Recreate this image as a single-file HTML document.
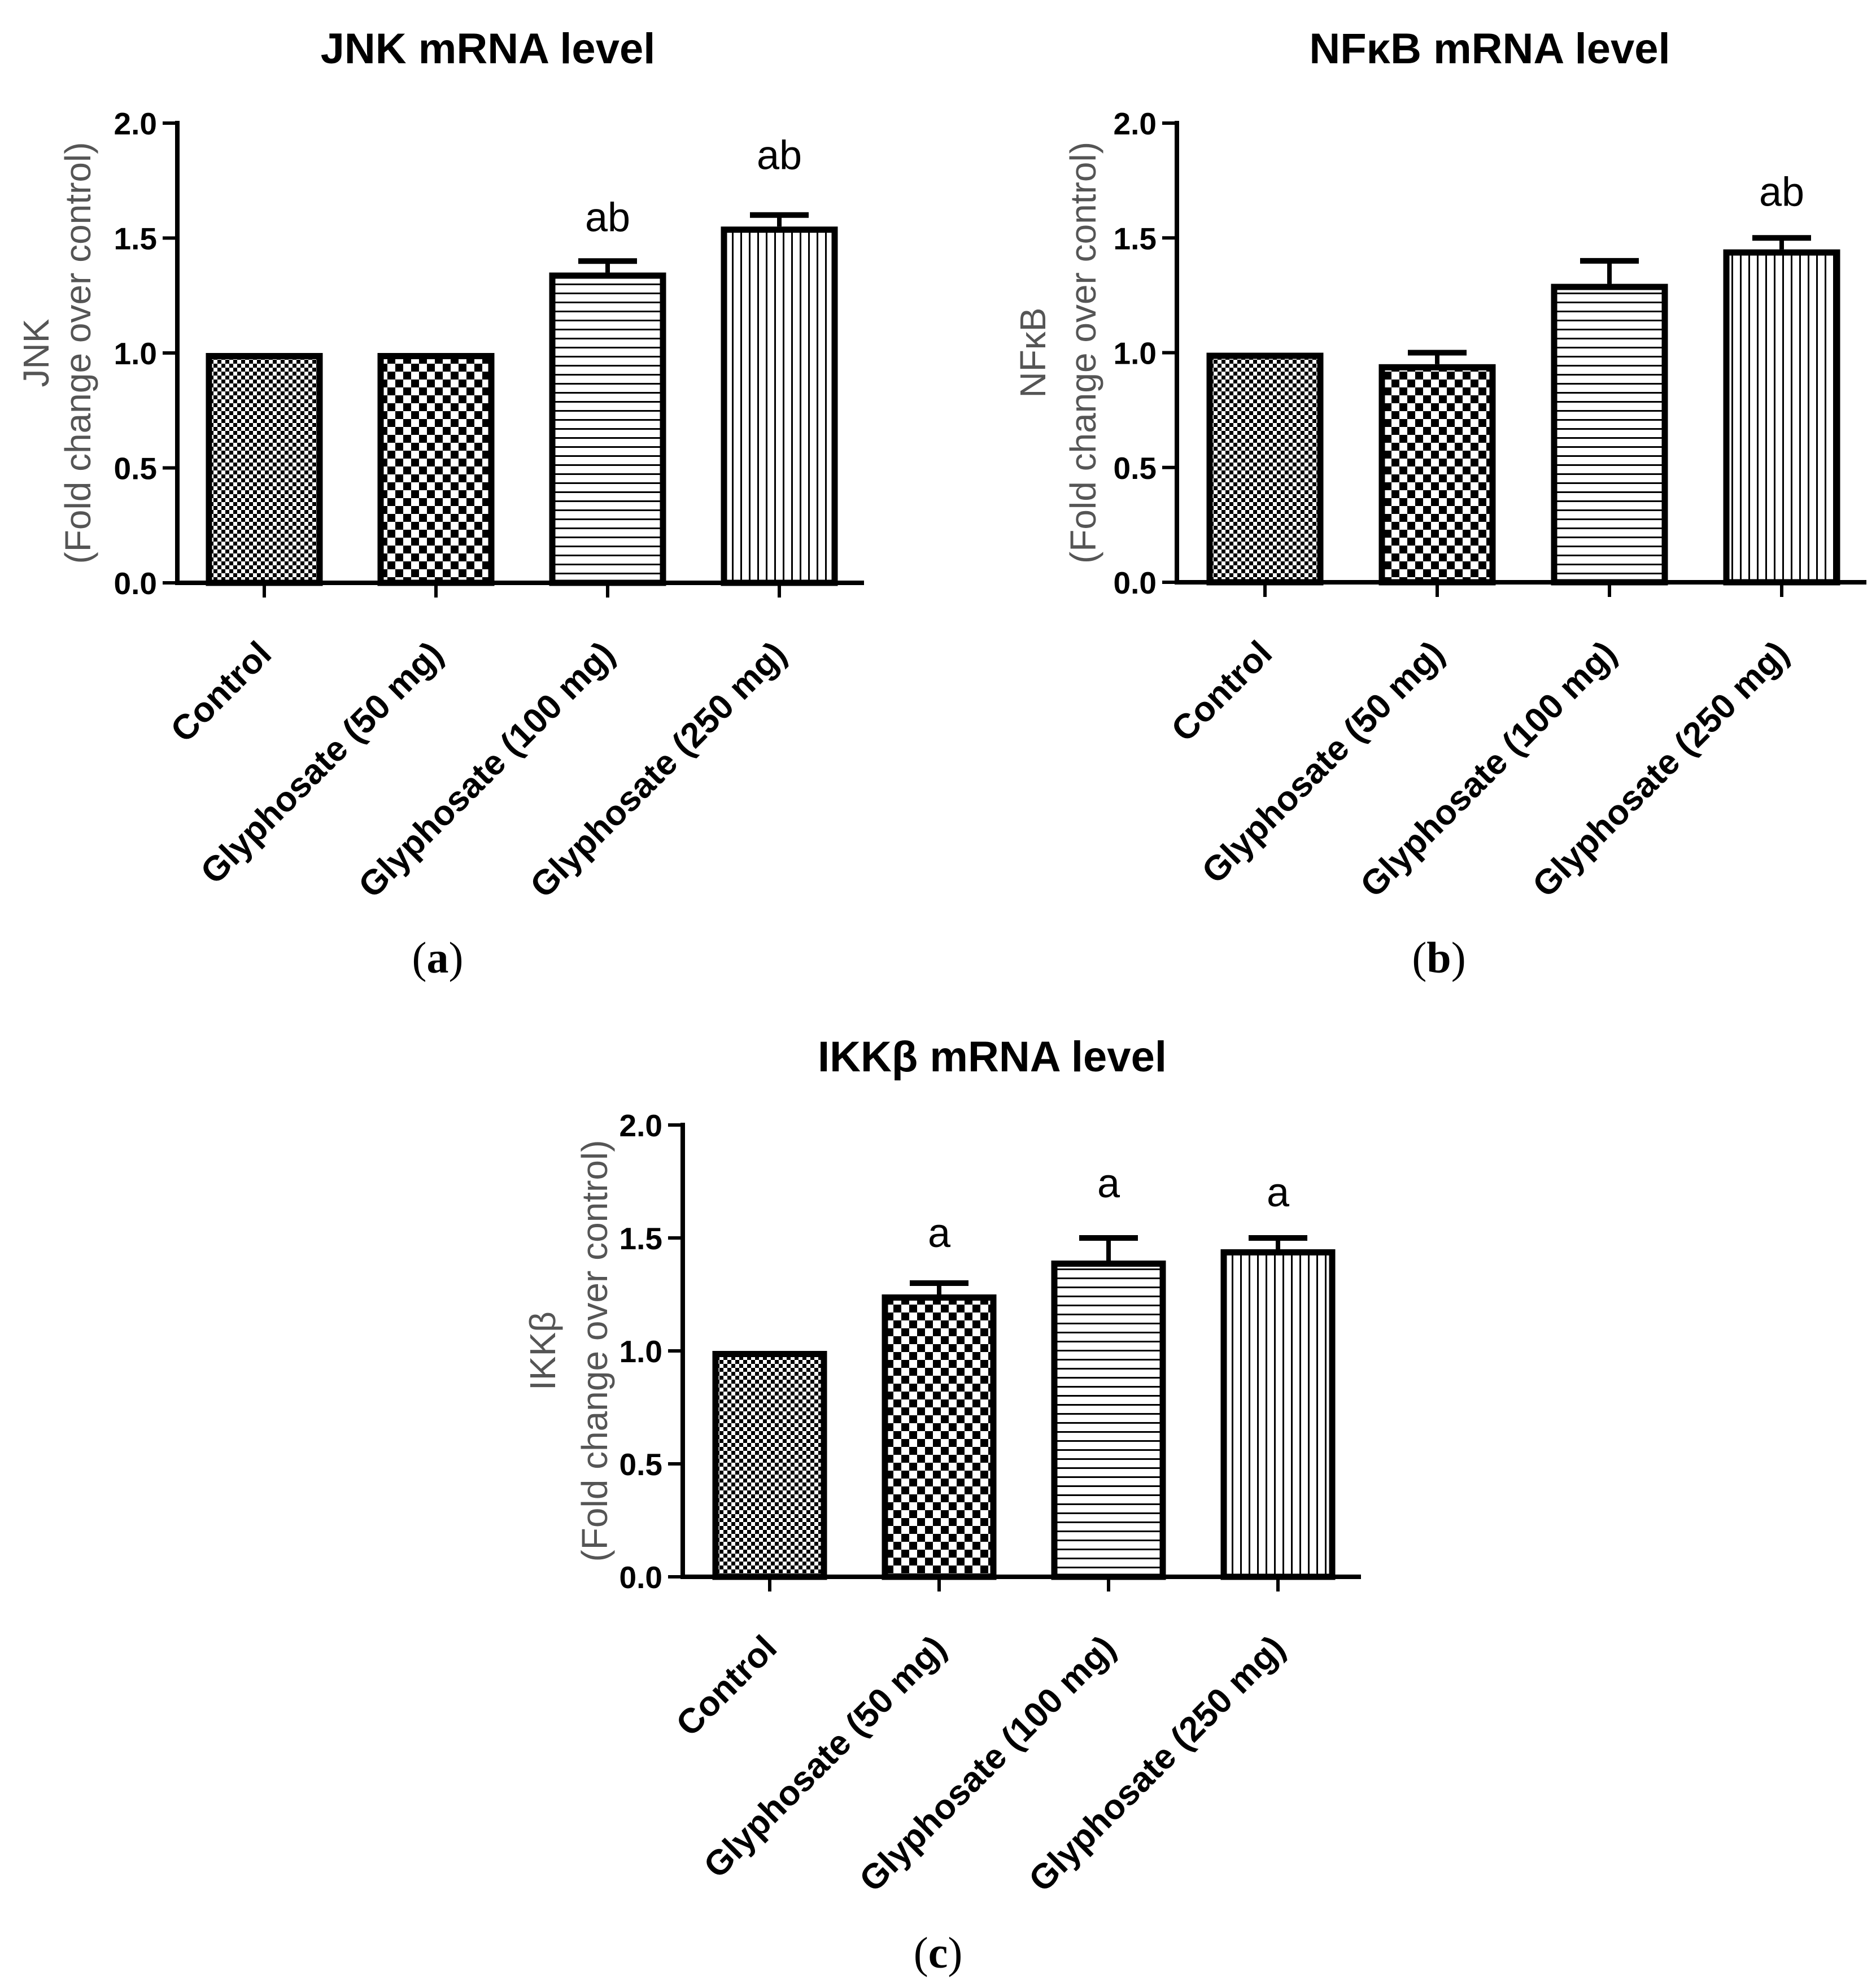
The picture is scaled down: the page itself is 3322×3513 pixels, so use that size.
<!DOCTYPE html>
<html><head><meta charset="utf-8">
<style>
html,body{margin:0;padding:0;background:#fff;}
svg{display:block;}
</style></head>
<body>
<svg id="fig" width="3322" height="3513" viewBox="0 0 3322 3513" xmlns="http://www.w3.org/2000/svg">
<defs>
<pattern id="pSmall" width="14" height="14" patternUnits="userSpaceOnUse">
<rect width="14" height="14" fill="#fff"/><rect width="7" height="7" fill="#000"/><rect x="7" y="7" width="7" height="7" fill="#000"/>
</pattern>
<pattern id="pLarge" width="28" height="28" patternUnits="userSpaceOnUse">
<rect width="28" height="28" fill="#fff"/><rect width="14" height="14" fill="#000"/><rect x="14" y="14" width="14" height="14" fill="#000"/>
</pattern>
<pattern id="pHoriz" width="16" height="16" patternUnits="userSpaceOnUse">
<rect width="16" height="16" fill="#fff"/><rect y="6" width="16" height="3" fill="#000"/>
</pattern>
<pattern id="pVert" width="15" height="15" patternUnits="userSpaceOnUse">
<rect width="15" height="15" fill="#fff"/><rect x="6" width="3" height="15" fill="#000"/>
</pattern>
</defs>
</svg>
<script>
const categories = ["Control", "Glyphosate (50 mg)", "Glyphosate (100 mg)", "Glyphosate (250 mg)"];
const yTicks = [0, 0.5, 1.0, 1.5, 2.0];
const yTickLabels = ["0.0", "0.5", "1.0", "1.5", "2.0"];
const jnkValues = [1.0, 1.0, 1.35, 1.55];
const jnkErrors = [0, 0, 0.05, 0.05];
const jnkMarks = ["", "", "ab", "ab"];
const jnkMarkY = [0, 0, 1.53, 1.80];
const nfkbValues = [1.0, 0.95, 1.3, 1.45];
const nfkbErrors = [0, 0.05, 0.1, 0.05];
const nfkbMarks = ["", "", "", "ab"];
const nfkbMarkY = [0, 0, 0, 1.64];
const ikkValues = [1.0, 1.25, 1.4, 1.45];
const ikkErrors = [0, 0.05, 0.1, 0.05];
const ikkMarks = ["", "a", "a", "a"];
const ikkMarkY = [0, 1.46, 1.68, 1.64];

const NS = "http://www.w3.org/2000/svg";
const svg = document.getElementById("fig");
const fills = ["url(#pSmall)", "url(#pLarge)", "url(#pHoriz)", "url(#pVert)"];
function mk(tag, attrs, parent, text) {
  const e = document.createElementNS(NS, tag);
  for (const k in attrs) e.setAttribute(k, attrs[k]);
  if (text !== undefined) e.textContent = text;
  (parent || svg).appendChild(e);
  return e;
}

function panel(cfg) {
  const g = mk("g", {});
  
  
  const yScale = v => cfg.y0 - v * cfg.unit;
  const xScale = i => cfg.c0 + i * cfg.step;
  const t = mk("text", {x: cfg.tx, y: cfg.ty, "text-anchor": "middle", "font-family": "Liberation Sans, Arial, sans-serif", "font-weight": "bold", "font-size": 76}, g, cfg.title);
  
  
  const yt = mk("text", {transform: `translate(${cfg.yt1},${(cfg.y0 + yScale(2)) / 2}) rotate(-90)`, "text-anchor": "middle", "dominant-baseline": "central", "font-family": "Liberation Sans, Arial, sans-serif", "font-size": 64, fill: "#555"}, g, cfg.ylab);
  
  
  const yt2 = mk("text", {transform: `translate(${cfg.yt2},${(cfg.y0 + yScale(2)) / 2}) rotate(-90)`, "text-anchor": "middle", "dominant-baseline": "central", "font-family": "Liberation Sans, Arial, sans-serif", "font-size": 64, fill: "#555"}, g, "(Fold change over control)");
  
  
  cfg.values.forEach((v, i) => {
    const cx = xScale(i), w = cfg.bw, top = yScale(v);
    if (cfg.errs[i] > 0) {
      const ey = yScale(v + cfg.errs[i]);
      const el = mk("line", {x1: cx, x2: cx, y1: top, y2: ey, stroke: "#000", "stroke-width": 8}, g);
      
      
      const cap = mk("line", {x1: cx - 52, x2: cx + 52, y1: ey, y2: ey, stroke: "#000", "stroke-width": 10}, g);
      
      
    }
    const r = mk("rect", {x: cx - w / 2 + 5.5, y: top + 5.5, width: w - 11, height: cfg.y0 - top - 5.5, fill: fills[i], stroke: "#000", "stroke-width": 11}, g);
    
    
    if (cfg.marks[i]) {
      const m = mk("text", {x: cx, y: yScale(cfg.markY[i]), "text-anchor": "middle", "font-family": "Liberation Sans, Arial, sans-serif", "font-size": 72}, g, cfg.marks[i]);
      
      
    }
    const tk = mk("line", {x1: cx, x2: cx, y1: cfg.y0, y2: cfg.y0 + 26, stroke: "#000", "stroke-width": 6}, g);
    
    
    const lx = cx + 16, ly = cfg.y0 + 130;
    const lab = mk("text", {transform: `translate(${lx},${ly}) rotate(-45)`, "text-anchor": "end", "font-family": "Liberation Sans, Arial, sans-serif", "font-weight": "bold", "font-size": 62}, g, categories[i]);
    
    
  });
  const ya = mk("line", {x1: cfg.ax, x2: cfg.ax, y1: yScale(2) - 4, y2: cfg.y0 + 4, stroke: "#000", "stroke-width": 8}, g);
  
  
  const xa = mk("line", {x1: cfg.ax - 4, x2: cfg.axEnd, y1: cfg.y0, y2: cfg.y0, stroke: "#000", "stroke-width": 8}, g);
  
  
  yTicks.forEach((v, i) => {
    const y = yScale(v);
    const tl = mk("line", {x1: cfg.ax - 26, x2: cfg.ax, y1: y, y2: y, stroke: "#000", "stroke-width": 6}, g);
    
    
    const tt = mk("text", {x: cfg.ax - 36, y: y + 20, "text-anchor": "end", "font-family": "Liberation Sans, Arial, sans-serif", "font-weight": "bold", "font-size": 55}, g, yTickLabels[i]);
    
    
  });
  const cap = mk("text", {x: cfg.capX, y: cfg.capY, "text-anchor": "middle", "font-family": "Liberation Serif, serif", "font-size": 78}, g);
  
  
  mk("tspan", {}, cap, "(");
  mk("tspan", {"font-weight": "bold"}, cap, cfg.letter);
  mk("tspan", {}, cap, ")");
}

panel({id: "jnk", title: "JNK mRNA level", ylab: "JNK", values: jnkValues, errs: jnkErrors, marks: jnkMarks, markY: jnkMarkY,
  ax: 314, axEnd: 1530, y0: 1032, unit: 407, c0: 468, step: 304, bw: 207, tx: 864, ty: 112, yt1: 64, yt2: 138, capX: 775, capY: 1722, letter: "a"});
panel({id: "nfkb", title: "NF\u03baB mRNA level", ylab: "NF\u03baB", values: nfkbValues, errs: nfkbErrors, marks: nfkbMarks, markY: nfkbMarkY,
  ax: 2084, axEnd: 3305, y0: 1031, unit: 406.5, c0: 2240, step: 305, bw: 207, tx: 2638, ty: 112, yt1: 1829, yt2: 1918, capX: 2548, capY: 1722, letter: "b"});
panel({id: "ikk", title: "IKK\u03b2 mRNA level", ylab: "IKK\u03b2", values: ikkValues, errs: ikkErrors, marks: ikkMarks, markY: ikkMarkY,
  ax: 1209, axEnd: 2410, y0: 2792, unit: 400, c0: 1363, step: 300, bw: 203, tx: 1757, ty: 1897, yt1: 961, yt2: 1053, capX: 1661, capY: 3484, letter: "c"});
</script>
</body></html>
